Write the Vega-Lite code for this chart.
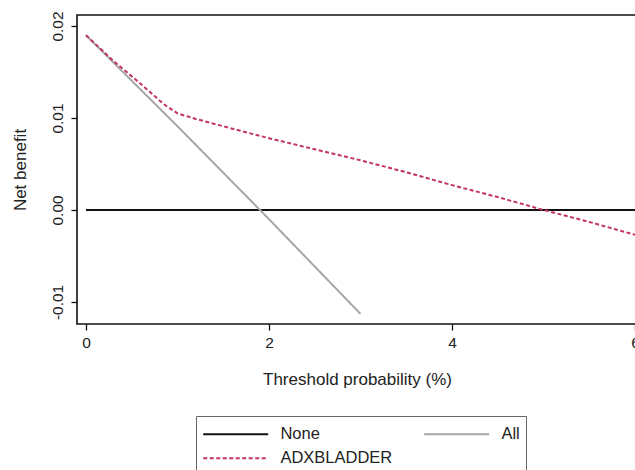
{
  "$schema": "https://vega.github.io/schema/vega-lite/v6.json",
  "autosize": {"type": "none"},
  "padding": {"left": 77, "top": 15, "right": 0, "bottom": 146},
  "width": 560,
  "height": 309,
  "background": "white",
  "config": {
    "view": {"stroke": "#111", "strokeWidth": 1.6},
    "font": "Liberation Sans",
    "axis": {"grid": false, "domain": false, "tickColor": "#111", "tickWidth": 1.3, "tickSize": 6,
             "labelFont": "Liberation Sans", "titleFont": "Liberation Sans", "labelFontSize": 15.5, "titleFontSize": 17,
             "titleFontWeight": "normal", "labelColor": "#222", "titleColor": "#222"},
    "legend": {"labelFont": "Liberation Sans", "labelFontSize": 16.5, "labelColor": "#222"}
  },
  "data": {"values": [
    {"series": "None", "x": 0, "y": 0},
    {"series": "None", "x": 6, "y": 0},
    {"series": "All", "x": 0, "y": 0.019},
    {"series": "All", "x": 1, "y": 0.0091},
    {"series": "All", "x": 2, "y": -0.001},
    {"series": "All", "x": 3, "y": -0.0113},
    {"series": "ADXBLADDER", "x": 0, "y": 0.019},
    {"series": "ADXBLADDER", "x": 0.3, "y": 0.0162},
    {"series": "ADXBLADDER", "x": 0.6, "y": 0.0137},
    {"series": "ADXBLADDER", "x": 0.85, "y": 0.0115},
    {"series": "ADXBLADDER", "x": 1.0, "y": 0.0105},
    {"series": "ADXBLADDER", "x": 1.2, "y": 0.0099},
    {"series": "ADXBLADDER", "x": 1.5, "y": 0.0091},
    {"series": "ADXBLADDER", "x": 2, "y": 0.0078},
    {"series": "ADXBLADDER", "x": 2.5, "y": 0.0066},
    {"series": "ADXBLADDER", "x": 3, "y": 0.0054},
    {"series": "ADXBLADDER", "x": 3.5, "y": 0.0041},
    {"series": "ADXBLADDER", "x": 4, "y": 0.0027},
    {"series": "ADXBLADDER", "x": 4.5, "y": 0.0014},
    {"series": "ADXBLADDER", "x": 5, "y": 0.0},
    {"series": "ADXBLADDER", "x": 5.5, "y": -0.0013},
    {"series": "ADXBLADDER", "x": 6, "y": -0.0027}
  ]},
  "mark": {"type": "line", "strokeWidth": 2, "clip": true},
  "encoding": {
    "x": {"field": "x", "type": "quantitative",
          "scale": {"domain": [-0.0984, 6.022], "nice": false, "zero": false},
          "axis": {"values": [0, 2, 4, 6], "title": "Threshold probability (%)", "labelPadding": 5, "titlePadding": 21}},
    "y": {"field": "y", "type": "quantitative",
          "scale": {"domain": [-0.0124, 0.0212], "nice": false, "zero": false},
          "axis": {"values": [-0.01, 0, 0.01, 0.02], "labelExpr": "replace(format(datum.value, '.2f'), '\u2212', '-')", "labelAngle": -90, "labelAlign": "center", "labelBaseline": "bottom",
                   "labelPadding": 6, "title": "Net benefit", "titlePadding": 21}},
    "color": {"field": "series", "type": "nominal",
              "scale": {"domain": ["None", "All", "ADXBLADDER"], "range": ["#111111", "#a6a6a6", "#c2365e"]},
              "legend": {"title": null, "orient": "none", "legendX": 119, "legendY": 401, "columns": 2, "direction": "horizontal",
                         "symbolType": "M-3,0H3", "symbolSize": 469, "symbolStrokeWidth": 2, "symbolOffset": 21.7,
                         "strokeColor": "#666", "padding": 6, "columnPadding": 27, "rowPadding": 3.3, "labelOffset": 32.7}},
    "strokeDash": {"field": "series", "type": "nominal",
                   "scale": {"domain": ["None", "All", "ADXBLADDER"], "range": [[1, 0], [1, 0], [4, 2.5]]},
                   "legend": {"title": null, "orient": "none", "legendX": 119, "legendY": 401, "columns": 2, "direction": "horizontal",
                              "symbolType": "M-3,0H3", "symbolSize": 469, "symbolStrokeWidth": 2, "symbolOffset": 21.7,
                              "strokeColor": "#666", "padding": 6, "columnPadding": 27, "rowPadding": 3.3, "labelOffset": 32.7}}
  }
}
